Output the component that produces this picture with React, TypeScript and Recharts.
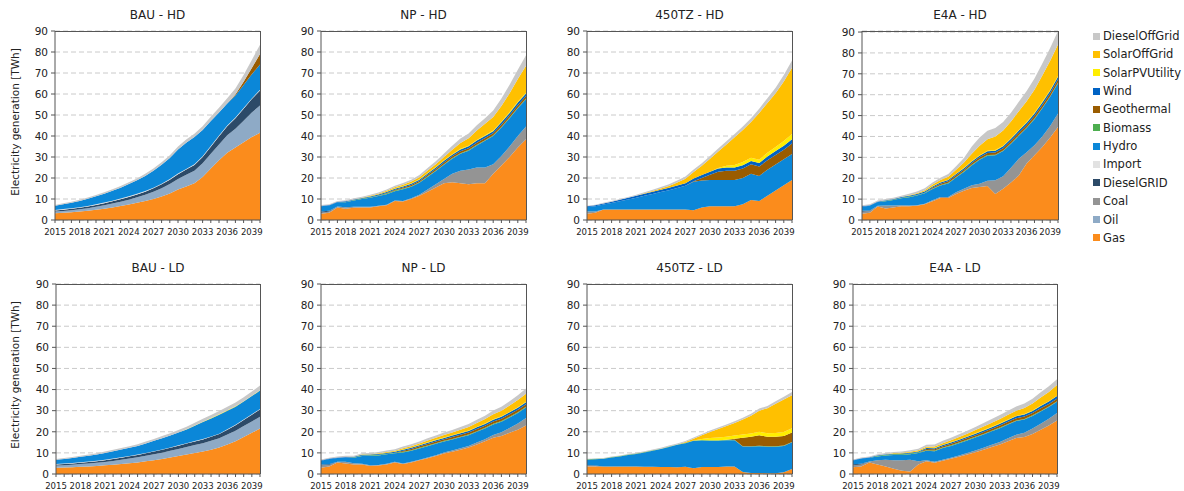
import React from "react";
import { AreaChart, Area, XAxis, YAxis, CartesianGrid } from "recharts";

const FONT = '"DejaVu Sans", Verdana, sans-serif';
const FONT_NARROW = '"DejaVu Sans Condensed", "DejaVu Sans", sans-serif';

const YEARS = [
  2015, 2016, 2017, 2018, 2019, 2020, 2021, 2022, 2023, 2024, 2025, 2026, 2027,
  2028, 2029, 2030, 2031, 2032, 2033, 2034, 2035, 2036, 2037, 2038, 2039, 2040,
];
const Y_TICKS = [0, 10, 20, 30, 40, 50, 60, 70, 80, 90];
const NONE = [0, 0, 0, 0, 0, 0, 0, 0, 0, 0, 0, 0, 0, 0, 0, 0, 0, 0, 0, 0, 0, 0, 0, 0, 0, 0];

// stacking order, bottom -> top
const KEYS = [
  "Gas", "Oil", "Coal", "DieselGRID", "Import", "Hydro", "Biomass",
  "Geothermal", "Wind", "SolarPVUtility", "SolarOffGrid", "DieselOffGrid",
];
const COLORS: Record<string, string> = {
  Gas: "#fb8c1c",
  Oil: "#8eaac6",
  Coal: "#949494",
  DieselGRID: "#2c4a68",
  Import: "#e2e2e2",
  Hydro: "#0b87d8",
  Biomass: "#4dae4f",
  Geothermal: "#9a5c00",
  Wind: "#0062c4",
  SolarPVUtility: "#ffee00",
  SolarOffGrid: "#ffc000",
  DieselOffGrid: "#c8c8c8",
};

// ---- BAU - HD
const BAU_HD_GAS = [3.2, 3.4, 3.7, 4, 4.4, 4.9, 5.4, 6, 6.7, 7.4, 8.2, 9, 10, 11.2, 12.6, 14.5, 16, 17.5, 20.5, 24.5, 28.5, 32, 34.5, 37, 39.5, 41.5];
const BAU_HD_OIL = [0.8, 0.9, 1, 1.1, 1.2, 1.4, 1.6, 1.8, 2, 2.3, 2.6, 3, 3.4, 3.9, 4.5, 5, 5.5, 6, 6.5, 7, 7.5, 8.3, 9, 10.3, 11.7, 13];
const BAU_HD_DGRID = [0.5, 0.6, 0.6, 0.7, 0.8, 0.9, 1, 1.1, 1.2, 1.3, 1.4, 1.5, 1.7, 1.9, 2.1, 2.3, 2.5, 2.7, 3, 3.4, 3.9, 4.4, 5, 5.7, 6.4, 7.2];
const BAU_HD_IMPORT = [0.3, 0.3, 0.3, 0.3, 0.3, 0.3, 0.3, 0.3, 0.3, 0.3, 0.3, 0.3, 0.3, 0.3, 0.3, 0.3, 0.3, 0.3, 0.3, 0.3, 0.3, 0.3, 0.3, 0.3, 0.3, 0.3];
const BAU_HD_HYDRO = [2, 2.3, 2.6, 3, 3.4, 3.8, 4.2, 4.7, 5.2, 5.8, 6.4, 7.2, 8, 9, 10, 11.5, 12.5, 13, 12.5, 12, 11, 10.5, 10.5, 11, 11.5, 12];
const BAU_HD_GEO = [0, 0, 0, 0, 0, 0, 0, 0, 0, 0, 0, 0, 0, 0, 0, 0, 0, 0, 0, 0, 0, 0, 0.5, 1.5, 3, 5];
const BAU_HD_DOG = [0.4, 0.45, 0.5, 0.55, 0.6, 0.65, 0.7, 0.75, 0.8, 0.85, 0.9, 1, 1.1, 1.2, 1.3, 1.4, 1.5, 1.6, 1.8, 2, 2.2, 2.5, 2.8, 3.2, 3.8, 4.5];

// ---- NP - HD
const NP_HD_GAS = [3, 3.5, 6, 5.3, 5.8, 6, 6, 6.5, 7, 9, 8.8, 10, 11.5, 13.5, 15.5, 17.5, 18, 17.5, 17, 17.5, 17.5, 22, 26, 30, 34.5, 38.5];
const NP_HD_COAL = [0.5, 0.6, 0.4, 0.8, 0.5, 0.3, 0.3, 0.3, 0.3, 0.3, 0.3, 0.3, 0.5, 1, 1.5, 2, 4, 6, 7, 7.5, 7.5, 4.5, 4.5, 5, 5.5, 6];
const NP_HD_DGRID = [0.5, 0.3, 0, 0, 0, 0, 0, 0, 0, 0, 0, 0, 0, 0, 0, 0, 0, 0, 0, 0, 0, 0, 0, 0, 0, 0];
const NP_HD_HYDRO = [2.5, 2.5, 2, 2.3, 3, 3.7, 4.3, 4.6, 5, 4.4, 5.6, 5.5, 5.7, 6, 6.3, 6.8, 7.2, 8, 9, 10.5, 12.7, 13.5, 13.5, 13.5, 13.2, 13];
const NP_HD_BIO = [0, 0, 0, 0.2, 0.2, 0.2, 0.2, 0.3, 0.3, 0.3, 0.3, 0.3, 0.3, 0.3, 0.3, 0.3, 0.3, 0.3, 0.3, 0.3, 0.3, 0.3, 0.3, 0.3, 0.3, 0.3];
const NP_HD_GEO = [0, 0, 0, 0, 0, 0, 0, 0, 0.2, 0.4, 0.5, 0.6, 0.6, 0.7, 0.7, 0.8, 0.8, 0.9, 0.9, 1, 1, 1, 1.1, 1.1, 1.2, 1.2];
const NP_HD_WIND = [0.3, 0.3, 0.3, 0.3, 0.3, 0.3, 0.4, 0.4, 0.5, 0.5, 0.5, 0.6, 0.6, 0.7, 0.7, 0.8, 0.8, 0.9, 0.9, 1, 1, 1, 1.1, 1.1, 1.2, 1.2];
const NP_HD_PV = [0, 0, 0, 0, 0, 0, 0.1, 0.1, 0.2, 0.2, 0.2, 0.2, 0.2, 0.2, 0.2, 0.2, 0.2, 0.3, 0.3, 0.3, 0.3, 0.3, 0.3, 0.4, 0.4, 0.4];
const NP_HD_SOG = [0, 0, 0, 0, 0, 0.1, 0.2, 0.3, 0.4, 0.5, 0.6, 0.8, 1, 1.2, 1.4, 1.6, 2.2, 2.8, 3.5, 4.5, 5.5, 6.5, 7.5, 9, 10.8, 12.8];
const NP_HD_DOG = [0.3, 0.35, 0.4, 0.45, 0.5, 0.5, 0.55, 0.6, 0.65, 0.7, 0.8, 0.9, 1, 1.2, 1.4, 1.7, 1.9, 2.1, 2.3, 2.5, 2.7, 3.1, 3.5, 4, 4.5, 5];

// ---- 450TZ - HD
const TZ_HD_GAS = [3, 3.5, 5, 5, 5, 5, 5, 5, 5, 5, 5, 5, 5, 4.7, 6, 6.5, 6.5, 6.5, 6.5, 7.5, 9.5, 9, 11.6, 14, 16.5, 19];
const TZ_HD_COAL = [1, 0.5, 0, 0, 0, 0, 0, 0, 0, 0, 0, 0, 0, 0, 0, 0, 0, 0, 0, 0, 0, 0, 0, 0, 0, 0];
const TZ_HD_HYDRO = [2.2, 2.6, 2.4, 3.1, 3.9, 4.8, 5.6, 6.5, 7.4, 8.3, 9.2, 10.2, 11.3, 13.5, 12.8, 12.5, 12.5, 12.5, 12.5, 12.5, 12.5, 12, 12.3, 12.4, 12.4, 12.4];
const TZ_HD_GEO = [0, 0, 0, 0, 0, 0, 0, 0, 0, 0, 0, 0, 0, 0.3, 1.2, 2.5, 4, 4.5, 4.5, 4.5, 4.5, 4.5, 4.5, 4.5, 4.5, 5];
const TZ_HD_WIND = [0.3, 0.4, 0.5, 0.6, 0.7, 0.8, 0.9, 1, 1, 1.1, 1.1, 1.2, 1.2, 1.3, 1.4, 1.5, 1.5, 1.5, 1.5, 1.6, 1.6, 1.7, 1.8, 1.9, 2, 2];
const TZ_HD_PV = [0, 0, 0, 0, 0, 0, 0, 0, 0, 0, 0, 0, 0, 0, 0, 0, 0.3, 0.8, 1.2, 1.5, 1.5, 1.5, 1.8, 2, 2.2, 2.5];
const TZ_HD_SOG = [0, 0, 0, 0, 0, 0, 0, 0.2, 0.4, 0.6, 0.9, 1.5, 2.2, 3.1, 4.4, 6.2, 7.8, 10.2, 13.2, 15.2, 17.1, 22.3, 23.7, 25.6, 28.4, 31.6];
const TZ_HD_DOG = [0.3, 0.3, 0.3, 0.3, 0.4, 0.4, 0.5, 0.5, 0.6, 0.7, 0.8, 0.9, 1, 1.1, 1.2, 1.3, 1.4, 1.5, 1.6, 1.7, 1.8, 2, 2.3, 2.6, 3, 3.5];

// ---- E4A - HD
const E4A_HD_GAS = [3, 3.5, 6.5, 5.5, 6, 6.6, 6.6, 6.8, 7.5, 9, 10.5, 10.5, 12.5, 14, 15.3, 15.8, 16.3, 12.5, 15, 18, 21.3, 27, 31, 35, 39.5, 44.5];
const E4A_HD_COAL = [1, 0.8, 0.3, 1.5, 1, 0.5, 0.3, 0.3, 0.3, 0.5, 0.5, 0.5, 0.8, 1, 1.3, 1.5, 2.5, 6.5, 6, 7, 8, 5.5, 4.8, 5, 5.5, 6.5];
const E4A_HD_DGRID = [0.4, 0.3, 0, 0, 0, 0, 0, 0, 0, 0, 0, 0, 0, 0, 0, 0, 0, 0, 0, 0, 0, 0, 0, 0, 0, 0];
const E4A_HD_HYDRO = [2, 2.2, 1.8, 2, 2.6, 3.3, 4, 4.6, 5, 5.3, 5.5, 6.5, 7, 8, 9.5, 11.5, 12, 12, 12, 11.5, 11, 11.5, 12.5, 13.5, 14, 14.5];
const E4A_HD_BIO = [0, 0, 0, 0.2, 0.2, 0.3, 0.3, 0.3, 0.3, 0.3, 0.3, 0.3, 0.3, 0.3, 0.3, 0.3, 0.3, 0.3, 0.3, 0.3, 0.3, 0.3, 0.3, 0.3, 0.3, 0.3];
const E4A_HD_GEO = [0, 0, 0, 0, 0, 0, 0, 0, 0, 0.5, 0.6, 0.7, 0.8, 0.8, 0.9, 0.9, 1, 1, 1.1, 1.1, 1.2, 1.2, 1.3, 1.3, 1.4, 1.5];
const E4A_HD_WIND = [0.3, 0.3, 0.3, 0.3, 0.3, 0.3, 0.4, 0.4, 0.5, 0.5, 0.5, 0.6, 0.6, 0.7, 0.7, 0.8, 0.8, 0.9, 0.9, 1, 1, 1.1, 1.1, 1.2, 1.2, 1.3];
const E4A_HD_PV = [0, 0, 0, 0, 0, 0, 0.1, 0.1, 0.2, 0.2, 0.2, 0.2, 0.2, 0.2, 0.2, 0.2, 0.3, 0.3, 0.3, 0.3, 0.3, 0.3, 0.4, 0.4, 0.4, 0.4];
const E4A_HD_SOG = [0, 0, 0, 0, 0, 0, 0.2, 0.3, 0.5, 0.7, 1, 1.4, 1.9, 2.5, 3.5, 4.5, 5.5, 6.5, 7.2, 8, 9, 10, 11, 12.5, 14, 15];
const E4A_HD_DOG = [0.4, 0.4, 0.45, 0.5, 0.55, 0.6, 0.7, 0.8, 0.9, 1, 1.1, 1.3, 1.6, 2.2, 3.5, 4, 4, 4, 4.1, 4.2, 4.5, 4.9, 5.3, 5.7, 6.1, 6.5];

// ---- BAU - LD
const BAU_LD_GAS = [3, 3.1, 3.2, 3.4, 3.6, 3.8, 4.1, 4.4, 4.7, 5.1, 5.5, 6, 6.5, 7.1, 7.8, 8.5, 9.2, 9.9, 10.6, 11.5, 12.5, 14, 15.5, 17.5, 19.5, 21.5];
const BAU_LD_OIL = [1, 1.1, 1.2, 1.3, 1.4, 1.5, 1.6, 1.8, 2, 2.2, 2.4, 2.6, 2.8, 3, 3.2, 3.4, 3.6, 3.8, 4, 4.2, 4.4, 4.7, 5, 5.2, 5.4, 5.6];
const BAU_LD_DGRID = [0.5, 0.55, 0.6, 0.65, 0.7, 0.75, 0.8, 0.9, 1, 1.05, 1.1, 1.2, 1.3, 1.35, 1.4, 1.5, 1.6, 1.7, 1.8, 1.9, 2, 2.3, 2.6, 2.9, 3.2, 3.5];
const BAU_LD_IMPORT = [0.2, 0.2, 0.2, 0.2, 0.2, 0.2, 0.2, 0.2, 0.2, 0.2, 0.2, 0.2, 0.2, 0.2, 0.2, 0.2, 0.2, 0.2, 0.2, 0.2, 0.2, 0.2, 0.2, 0.2, 0.2, 0.2];
const BAU_LD_HYDRO = [2, 2.2, 2.4, 2.6, 2.8, 3, 3.3, 3.5, 3.7, 3.9, 4.1, 4.5, 4.9, 5.3, 5.6, 6, 6.5, 7.2, 8, 8.5, 9, 8.8, 8.6, 8.5, 8.6, 8.7];
const BAU_LD_PV = [0, 0, 0, 0, 0, 0, 0, 0, 0, 0, 0, 0, 0, 0, 0, 0.1, 0.1, 0.2, 0.2, 0.2, 0.2, 0.2, 0.2, 0.2, 0.2, 0.2];
const BAU_LD_DOG = [0.4, 0.4, 0.45, 0.5, 0.5, 0.55, 0.6, 0.65, 0.7, 0.75, 0.8, 0.85, 0.9, 1, 1.05, 1.1, 1.2, 1.3, 1.4, 1.5, 1.6, 1.7, 1.8, 1.9, 2, 2.2];

// ---- NP - LD
const NP_LD_GAS = [3, 3.5, 5.5, 5, 4.5, 4.5, 3.8, 4, 4.5, 5.5, 4.7, 5.5, 6.5, 7.5, 8.5, 9.7, 10.5, 11.5, 12.5, 14, 15.5, 17.2, 18, 19.5, 21, 23];
const NP_LD_COAL = [1, 0.8, 0.3, 0.8, 0.6, 0.4, 0.3, 0.3, 0.3, 0.3, 0.3, 0.3, 0.3, 0.3, 0.4, 0.5, 0.6, 0.7, 0.8, 0.9, 1, 1.3, 1.8, 2.3, 2.9, 3.5];
const NP_LD_DGRID = [0.5, 0.3, 0, 0, 0, 0, 0, 0, 0, 0, 0, 0, 0, 0, 0, 0, 0, 0, 0, 0, 0, 0, 0, 0, 0, 0];
const NP_LD_HYDRO = [1.8, 2.5, 1.8, 2, 2.6, 3.6, 4.5, 4.5, 4.5, 4, 5.2, 5.2, 5.3, 5.4, 5.4, 5.2, 5.2, 5.2, 5.1, 5.1, 5.1, 5, 5, 5, 5, 5];
const NP_LD_BIO = [0, 0, 0, 0, 0.2, 0.3, 0.3, 0.3, 0.3, 0.3, 0.3, 0.3, 0.3, 0.3, 0.3, 0.3, 0.3, 0.3, 0.3, 0.3, 0.3, 0.3, 0.3, 0.3, 0.3, 0.3];
const NP_LD_GEO = [0, 0, 0, 0, 0, 0, 0, 0, 0, 0, 0.5, 0.6, 0.7, 0.7, 0.8, 0.8, 0.9, 0.9, 1, 1, 1, 1.1, 1.1, 1.2, 1.2, 1.2];
const NP_LD_WIND = [0.2, 0.2, 0.2, 0.3, 0.3, 0.3, 0.3, 0.4, 0.4, 0.4, 0.5, 0.5, 0.5, 0.6, 0.6, 0.6, 0.7, 0.7, 0.7, 0.8, 0.8, 0.8, 0.9, 0.9, 1, 1];
const NP_LD_PV = [0, 0, 0, 0, 0, 0.1, 0.1, 0.1, 0.1, 0.1, 0.2, 0.2, 0.2, 0.2, 0.2, 0.2, 0.2, 0.2, 0.2, 0.2, 0.2, 0.2, 0.2, 0.2, 0.2, 0.2];
const NP_LD_SOG = [0, 0, 0, 0, 0, 0.1, 0.1, 0.2, 0.3, 0.4, 0.5, 0.6, 0.7, 0.9, 1, 1.2, 1.3, 1.5, 1.7, 1.9, 2.1, 2.4, 2.7, 3, 3.4, 3.8];
const NP_LD_DOG = [0.4, 0.4, 0.45, 0.5, 0.5, 0.55, 0.6, 0.65, 0.7, 0.75, 0.8, 0.85, 0.9, 1, 1.05, 1.1, 1.2, 1.3, 1.4, 1.5, 1.6, 1.8, 1.9, 2.1, 2.3, 2.5];

// ---- 450TZ - LD
const TZ_LD_GAS = [3.5, 3.5, 3.5, 3.5, 3.5, 3.5, 3.5, 3.4, 3.4, 3.3, 3.3, 3.2, 3.4, 2.7, 3.3, 3.3, 3.3, 3.5, 3.5, 1, 0.5, 0.5, 0.3, 0.3, 0.8, 2.4];
const TZ_LD_COAL = [0.5, 0.3, 0, 0, 0, 0, 0, 0, 0, 0, 0, 0, 0, 0, 0, 0, 0, 0, 0, 0, 0, 0, 0, 0, 0, 0];
const TZ_LD_DGRID = [0.3, 0.2, 0, 0, 0, 0, 0, 0, 0, 0, 0, 0, 0, 0, 0, 0, 0, 0, 0, 0, 0, 0, 0, 0, 0, 0];
const TZ_LD_HYDRO = [2.5, 3, 3.7, 4.3, 4.8, 5.5, 6, 6.8, 7.6, 8.5, 9.5, 10.6, 11.2, 13, 12.6, 12.5, 12.5, 12.5, 12.5, 12, 12.5, 12.7, 12.6, 12.6, 12.5, 12.6];
const TZ_LD_BIO = [0.2, 0.2, 0.2, 0.2, 0.2, 0.2, 0.2, 0.2, 0.2, 0.2, 0.2, 0.2, 0.2, 0.2, 0.2, 0.2, 0.2, 0.2, 0.2, 0.2, 0.2, 0.2, 0.2, 0.2, 0.2, 0.2];
const TZ_LD_GEO = [0, 0, 0, 0, 0, 0, 0, 0, 0, 0, 0, 0, 0, 0, 0, 0, 0, 0, 0.5, 4, 4.5, 5, 4.5, 4.5, 4.5, 4.5];
const TZ_LD_PV = [0, 0, 0, 0, 0, 0, 0, 0, 0, 0, 0, 0, 0, 0, 0.5, 1, 1.3, 1.5, 1.5, 1.5, 1.5, 1.6, 1.7, 1.8, 1.9, 2];
const TZ_LD_SOG = [0, 0, 0, 0, 0, 0, 0, 0, 0, 0, 0, 0, 0.3, 0.8, 1.8, 2.9, 4, 5, 6, 7.1, 8.4, 10, 11.8, 13.9, 15.4, 15.6];
const TZ_LD_DOG = [0.2, 0.2, 0.2, 0.25, 0.3, 0.3, 0.35, 0.4, 0.4, 0.45, 0.5, 0.5, 0.55, 0.6, 0.6, 0.7, 0.7, 0.8, 0.8, 0.9, 0.9, 1, 1.1, 1.2, 1.3, 1.5];

// ---- E4A - LD
const E4A_LD_GAS = [3.2, 3.5, 5.5, 4.5, 3.5, 2.5, 1.5, 1.2, 4.5, 6, 5.3, 6.3, 7.2, 8.2, 9.2, 10.3, 11.5, 12.8, 14, 15.5, 17, 17.5, 19, 21, 23, 25.4];
const E4A_LD_COAL = [1, 1, 0.4, 2, 3.3, 4, 5, 5.5, 1.5, 0.5, 0.5, 0.5, 0.5, 0.6, 0.7, 0.8, 0.9, 1, 1.2, 1.4, 1.6, 2, 2.5, 2.8, 3.2, 3.5];
const E4A_LD_DGRID = [0.4, 0.3, 0, 0, 0, 0, 0, 0, 0, 0, 0, 0, 0, 0, 0, 0, 0, 0, 0, 0, 0, 0, 0, 0, 0, 0];
const E4A_LD_HYDRO = [1.8, 2.5, 1.8, 1.8, 2, 2.5, 2.5, 2.7, 4, 4.5, 5, 5.5, 5.6, 5.8, 6, 6.2, 6.3, 6.4, 6.5, 6.5, 6.5, 6.3, 6, 5.8, 5.5, 5.3];
const E4A_LD_BIO = [0, 0, 0, 0.3, 0.3, 0.3, 0.3, 0.3, 0.3, 0.3, 0.3, 0.3, 0.3, 0.3, 0.3, 0.3, 0.3, 0.3, 0.3, 0.3, 0.3, 0.3, 0.3, 0.3, 0.3, 0.3];
const E4A_LD_GEO = [0, 0, 0, 0, 0, 0, 0, 0, 0, 0.5, 0.6, 0.6, 0.7, 0.7, 0.8, 0.8, 0.9, 0.9, 1, 1, 1, 1.1, 1.1, 1.2, 1.2, 1.2];
const E4A_LD_WIND = [0.2, 0.2, 0.2, 0.3, 0.3, 0.3, 0.4, 0.4, 0.4, 0.5, 0.5, 0.5, 0.6, 0.6, 0.6, 0.7, 0.7, 0.8, 0.8, 0.9, 0.9, 1, 1, 1.1, 1.1, 1.2];
const E4A_LD_PV = [0, 0, 0, 0, 0, 0.1, 0.1, 0.1, 0.1, 0.1, 0.2, 0.2, 0.2, 0.2, 0.2, 0.2, 0.2, 0.2, 0.2, 0.2, 0.2, 0.2, 0.2, 0.2, 0.2, 0.2];
const E4A_LD_SOG = [0, 0, 0, 0, 0, 0.2, 0.3, 0.3, 0.4, 0.5, 0.6, 0.7, 0.9, 1.1, 1.3, 1.5, 1.7, 1.9, 2.1, 2.3, 2.5, 2.9, 3.3, 3.8, 4.4, 5];
const E4A_LD_DOG = [0.3, 0.35, 0.4, 0.45, 0.5, 0.55, 0.6, 0.7, 0.8, 0.9, 1, 1.1, 1.2, 1.3, 1.4, 1.5, 1.6, 1.7, 1.8, 1.9, 2, 2.1, 2.3, 2.5, 2.7, 2.8];

type SeriesMap = Record<string, number[]>;

const PANELS: { title: string; x: number; y: number; w: number; h: number; yLabel: boolean; series: SeriesMap }[] = [
  { title: "BAU - HD", x: 55, y: 31, w: 205, h: 189, yLabel: true,
    series: { Gas: BAU_HD_GAS, Oil: BAU_HD_OIL, DieselGRID: BAU_HD_DGRID, Import: BAU_HD_IMPORT, Hydro: BAU_HD_HYDRO, Geothermal: BAU_HD_GEO, DieselOffGrid: BAU_HD_DOG } },
  { title: "NP - HD", x: 321, y: 31, w: 205, h: 189, yLabel: false,
    series: { Gas: NP_HD_GAS, Coal: NP_HD_COAL, DieselGRID: NP_HD_DGRID, Hydro: NP_HD_HYDRO, Biomass: NP_HD_BIO, Geothermal: NP_HD_GEO, Wind: NP_HD_WIND, SolarPVUtility: NP_HD_PV, SolarOffGrid: NP_HD_SOG, DieselOffGrid: NP_HD_DOG } },
  { title: "450TZ - HD", x: 587, y: 31, w: 205, h: 189, yLabel: false,
    series: { Gas: TZ_HD_GAS, Coal: TZ_HD_COAL, Hydro: TZ_HD_HYDRO, Geothermal: TZ_HD_GEO, Wind: TZ_HD_WIND, SolarPVUtility: TZ_HD_PV, SolarOffGrid: TZ_HD_SOG, DieselOffGrid: TZ_HD_DOG } },
  { title: "E4A - HD", x: 862, y: 31, w: 196, h: 189, yLabel: false,
    series: { Gas: E4A_HD_GAS, Coal: E4A_HD_COAL, DieselGRID: E4A_HD_DGRID, Hydro: E4A_HD_HYDRO, Biomass: E4A_HD_BIO, Geothermal: E4A_HD_GEO, Wind: E4A_HD_WIND, SolarPVUtility: E4A_HD_PV, SolarOffGrid: E4A_HD_SOG, DieselOffGrid: E4A_HD_DOG } },
  { title: "BAU - LD", x: 56, y: 284, w: 204, h: 190, yLabel: true,
    series: { Gas: BAU_LD_GAS, Oil: BAU_LD_OIL, DieselGRID: BAU_LD_DGRID, Import: BAU_LD_IMPORT, Hydro: BAU_LD_HYDRO, SolarPVUtility: BAU_LD_PV, DieselOffGrid: BAU_LD_DOG } },
  { title: "NP - LD", x: 321, y: 284, w: 205, h: 190, yLabel: false,
    series: { Gas: NP_LD_GAS, Coal: NP_LD_COAL, DieselGRID: NP_LD_DGRID, Hydro: NP_LD_HYDRO, Biomass: NP_LD_BIO, Geothermal: NP_LD_GEO, Wind: NP_LD_WIND, SolarPVUtility: NP_LD_PV, SolarOffGrid: NP_LD_SOG, DieselOffGrid: NP_LD_DOG } },
  { title: "450TZ - LD", x: 587, y: 284, w: 205, h: 190, yLabel: false,
    series: { Gas: TZ_LD_GAS, Coal: TZ_LD_COAL, DieselGRID: TZ_LD_DGRID, Hydro: TZ_LD_HYDRO, Biomass: TZ_LD_BIO, Geothermal: TZ_LD_GEO, SolarPVUtility: TZ_LD_PV, SolarOffGrid: TZ_LD_SOG, DieselOffGrid: TZ_LD_DOG } },
  { title: "E4A - LD", x: 853, y: 284, w: 204, h: 190, yLabel: false,
    series: { Gas: E4A_LD_GAS, Coal: E4A_LD_COAL, DieselGRID: E4A_LD_DGRID, Hydro: E4A_LD_HYDRO, Biomass: E4A_LD_BIO, Geothermal: E4A_LD_GEO, Wind: E4A_LD_WIND, SolarPVUtility: E4A_LD_PV, SolarOffGrid: E4A_LD_SOG, DieselOffGrid: E4A_LD_DOG } },
];

const AXIS = "#555";
const TEXT = "#222";

function YearTick(props: any) {
  const { x, y, payload } = props;
  if ((payload.value - 2015) % 3 !== 0) return <g />;
  return (
    <text
      x={x}
      y={y}
      dy="0.71em"
      textAnchor="middle"
      fontSize={9.5}
      fill={TEXT}
      fontFamily={FONT_NARROW}
      style={{ fontStretch: "condensed" }}
    >
      {payload.value}
    </text>
  );
}

function Panel({ p }: { p: (typeof PANELS)[number] }) {
  const data = YEARS.map((year, i) => {
    const row: Record<string, number> = { year };
    KEYS.forEach((k) => {
      row[k] = (p.series[k] ?? NONE)[i];
    });
    return row;
  });
  const padL = 50;
  const padT = 5;
  const padR = 6;
  const padB = 24;
  return (
    <>
      <div style={{ position: "absolute", left: p.x - padL, top: p.y - padT }}>
        <AreaChart
          width={p.w + padL + padR}
          height={p.h + padT + padB}
          data={data}
          margin={{ top: padT, right: padR, bottom: 0, left: 0 }}
        >
          <CartesianGrid vertical={false} stroke="#cacaca" strokeDasharray="5 3" />
          <XAxis
            dataKey="year"
            type="number"
            domain={[2015, 2040]}
            ticks={YEARS}
            interval={0}
            height={padB}
            tickSize={3}
            tickMargin={5}
            stroke={AXIS}
            tick={(t: any) => <YearTick {...t} />}
          />
          <YAxis
            domain={[0, 90]}
            ticks={Y_TICKS}
            interval={0}
            width={padL}
            tickSize={4}
            tickMargin={3}
            stroke={AXIS}
            tick={{ fontSize: 10.5, fill: TEXT, fontFamily: FONT }}
          />
          {KEYS.map((k) => (
            <Area
              key={k}
              dataKey={k}
              stackId="1"
              type="linear"
              stroke="none"
              fill={COLORS[k]}
              fillOpacity={1}
              dot={false}
              activeDot={false}
              isAnimationActive={false}
            />
          ))}
        </AreaChart>
      </div>
      <div
        style={{
          position: "absolute",
          left: p.x,
          top: p.y,
          width: p.w + 1,
          height: p.h,
          borderTop: `1px solid ${AXIS}`,
          borderRight: `1px solid ${AXIS}`,
          boxSizing: "border-box",
          pointerEvents: "none",
        }}
      />
      <div
        style={{
          position: "absolute",
          left: p.x,
          width: p.w,
          top: p.y - 23,
          textAlign: "center",
          fontSize: 12,
          lineHeight: "14px",
          color: TEXT,
        }}
      >
        {p.title}
      </div>
      {p.yLabel && (
        <div
          style={{
            position: "absolute",
            left: 15,
            top: p.y + p.h / 2 - 4,
            transform: "translate(-50%, -50%) rotate(-90deg)",
            whiteSpace: "nowrap",
            fontSize: 10.5,
            color: TEXT,
          }}
        >
          Electricity generation [TWh]
        </div>
      )}
    </>
  );
}

function Legend() {
  const items = [...KEYS].reverse();
  return (
    <>
      {items.map((k, i) => (
        <div
          key={k}
          style={{
            position: "absolute",
            left: 1093,
            top: 36 + i * 18.35 - 7,
            height: 14,
            display: "flex",
            alignItems: "center",
            fontSize: 11.5,
            color: TEXT,
            whiteSpace: "nowrap",
          }}
        >
          <span style={{ width: 7, height: 7, background: COLORS[k], marginRight: 3, display: "inline-block" }} />
          {k}
        </div>
      ))}
    </>
  );
}

export default function App() {
  return (
    <div
      style={{
        position: "absolute",
        left: 0,
        top: 0,
        width: 1184,
        height: 491,
        background: "#fff",
        overflow: "hidden",
        fontFamily: FONT,
      }}
    >
      {PANELS.map((p) => (
        <Panel key={p.title} p={p} />
      ))}
      <Legend />
    </div>
  );
}
